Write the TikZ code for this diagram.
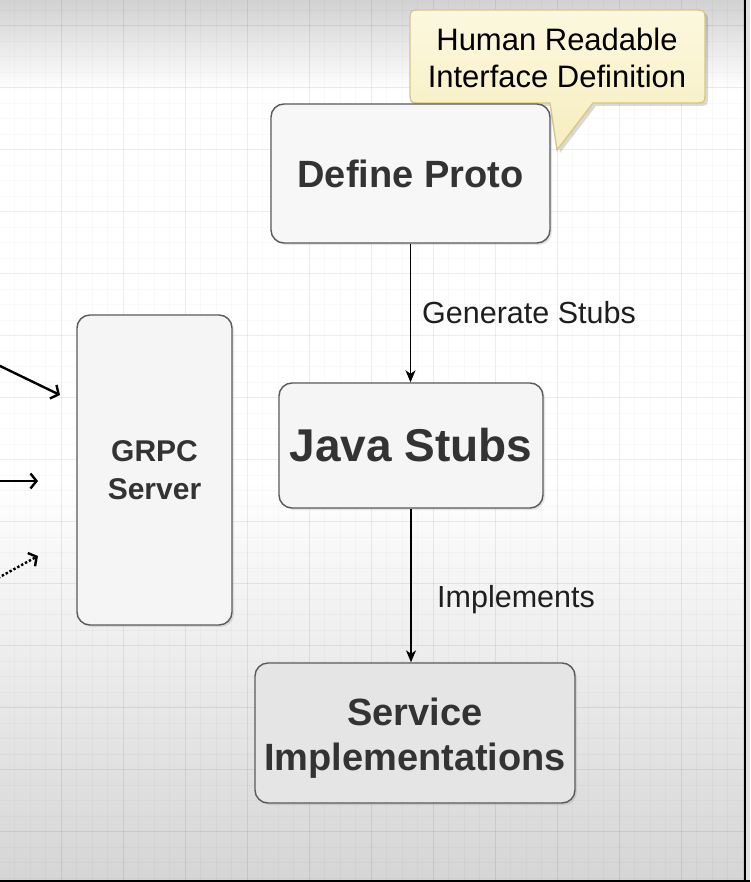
\documentclass[tikz,border=0pt]{standalone}
\usepackage{fontspec}
\setmainfont{Liberation Sans}
\usetikzlibrary{arrows.meta,shadows}
\definecolor{boxborder}{HTML}{5A5A5A}
\definecolor{boxtext}{HTML}{333333}
\definecolor{labeltext}{HTML}{1E1E1E}
\definecolor{calloutfillA}{HTML}{FCF8DE}
\definecolor{calloutfillB}{HTML}{F6EEBF}
\definecolor{calloutborder}{HTML}{D6C785}
\begin{document}
\begin{tikzpicture}[x=1pt,y=-1pt,
  minorgrid/.style={draw=black,draw opacity=0.022,line width=0.8pt},
  majorgrid/.style={draw=black,draw opacity=0.05,line width=1pt},
  sketchbox/.style={draw=boxborder,line width=1.4pt,rounded corners=13pt,
    drop shadow={shadow xshift=2pt,shadow yshift=-2pt,opacity=0.2},
    inner sep=0pt,align=center,text=boxtext,font=\bfseries},
  flow/.style={draw=black,line width=1.3pt,-{Stealth[length=12pt,width=10pt,inset=3.5pt]}},
  inarrow/.style={draw=black,line width=2.4pt,-{Straight Barb[length=6pt,width=15pt]}},
  edgelabel/.style={anchor=west,inner sep=0pt,text=labeltext,font=\fontsize{30.5}{35}\selectfont}
]
\useasboundingbox (0,0) rectangle (750,882);
% background
\shade[top color=gray!36,bottom color=white] (0,0) rectangle (750,90);
\fill[white] (0,90) rectangle (750,480);
\shade[top color=white,bottom color=gray!33] (0,480) rectangle (750,882);
% grid
\foreach \i in {0,...,47} \draw[minorgrid] ({14.5+15.5*\i},0) -- ({14.5+15.5*\i},882);
\foreach \j in {0,...,56} \draw[minorgrid] (0,{10.2+15.5*\j}) -- (750,{10.2+15.5*\j});
\foreach \i in {0,...,11} \draw[majorgrid] ({61+62*\i},0) -- ({61+62*\i},882);
\foreach \j in {0,...,13} \draw[majorgrid] (0,{25.7+62*\j}) -- (750,{25.7+62*\j});
% frame
\fill[gray!25] (745,0) rectangle (750,882);
\draw[black,line width=1.6pt] (745,0) -- (745,882);
\draw[black,line width=2pt] (0,881) -- (750,881);

% callout
\fill[black,opacity=0.15] (425,13) -- (696,13) .. controls (708,13) .. (708,25) -- (708,94) .. controls (708,106) .. (696,106) -- (596,106) -- (560,153) -- (553,106) -- (425,106) .. controls (413,106) .. (413,94) -- (413,25) .. controls (413,13) .. (425,13) -- cycle;
\shade[top color=calloutfillA,bottom color=calloutfillB,draw=calloutborder,line width=1.3pt]
  (422,10) -- (693,10) .. controls (705,10) .. (705,22) -- (705,91) .. controls (705,103) .. (693,103) -- (593,103) -- (557,150) -- (550,103) -- (422,103) .. controls (410,103) .. (410,91) -- (410,22) .. controls (410,10) .. (422,10) -- cycle;
\node[align=center,inner sep=0pt,text=black,font=\fontsize{31}{37}\selectfont] (hr) at (557,58) {Human Readable\\Interface Definition};

% boxes
\node[sketchbox,fill=white!97!black,minimum width=279pt,minimum height=139pt,font=\bfseries\fontsize{38}{45}\selectfont] (dp) at (410.5,173.5) {Define Proto};
\node[sketchbox,fill=white!96!black,minimum width=155pt,minimum height=310pt,font=\bfseries\fontsize{30}{38}\selectfont] (gs) at (154.5,470) {GRPC\\Server};
\node[sketchbox,fill=white!96!black,minimum width=264pt,minimum height=125pt,font=\bfseries\fontsize{46}{52}\selectfont] (js) at (411,445.5) {Java Stubs};
\node[sketchbox,fill=white!90!black,minimum width=320pt,minimum height=140pt] (si) at (415,733) {};
\node[inner sep=0pt,align=center,text=boxtext,font=\bfseries\fontsize{38}{45}\selectfont] (sitext) at (415,738.5) {Service\\Implementations};

% connectors
\draw[flow] (dp.south) -- (dp.south |- js.north);
\draw[flow] (js.south) -- (js.south |- si.north);
\node[edgelabel] (lgen) at (422,313) {Generate Stubs};
\node[edgelabel] (limp) at (437,600) {Implements};

% incoming arrows at left
\coordinate (a1s) at (-2,365);
\coordinate (a1e) at (60,395);
\coordinate (a2s) at (-2,481);
\coordinate (a2e) at (38,481);
\coordinate (a3s) at (-2,578);
\coordinate (a3e) at (38,556);
\draw[inarrow] (a1s) -- (a1e);
\draw[inarrow] (a2s) -- (a2e);
\draw[inarrow,dotted] (a3s) -- (a3e);
\end{tikzpicture}
\end{document}
